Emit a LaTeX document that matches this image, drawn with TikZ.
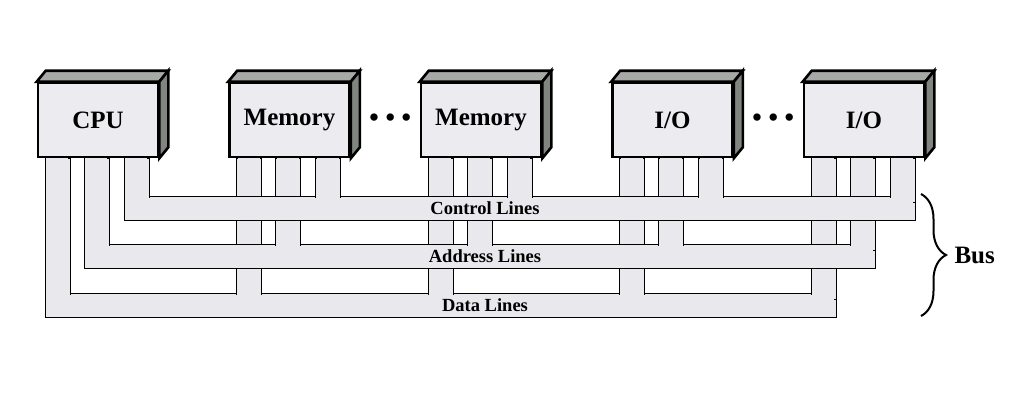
\documentclass[tikz,border=0pt]{standalone}
\usepackage{fontspec}
\setmainfont{Liberation Serif}
\usetikzlibrary{positioning, calc, backgrounds, decorations.pathreplacing}

\definecolor{facegray}{RGB}{236,236,240}
\definecolor{topgray}{RGB}{166,170,166}
\definecolor{sidegray}{RGB}{128,133,128}
\definecolor{linegray}{RGB}{233,233,237}

\begin{document}
\begin{tikzpicture}[x=1pt, y=-1pt, line width=2.6pt, node distance=191.5pt,
    every node/.style={font=\bfseries\fontsize{25}{28}\selectfont},
    module/.style={rectangle, draw, fill=facegray, minimum width=120pt, minimum height=74pt, inner sep=0pt},
    buslabel/.style={font=\bfseries\fontsize{18.5}{22}\selectfont}]
    \useasboundingbox (0,0) rectangle (1021,402);

    \node[module] (cpu) at (98,120) {CPU};
    \node[module, right of=cpu] (mem1) {Memory};
    \node[module, right of=mem1] (mem2) {Memory};
    \node[module, right of=mem2] (io1) {I/O};
    \node[module, right of=io1] (io2) {I/O};

    \node[font=\bfseries\fontsize{27}{30}\selectfont] (dots1) at ($(mem1.east)!0.5!(mem2.west)+(5,0)$) {• • •};
    \node[font=\bfseries\fontsize{27}{30}\selectfont] (dots2) at ($(io1.east)!0.5!(io2.west)+(5,0)$) {• • •};

    % top and side of each box
    \foreach \m in {cpu,mem1,mem2,io1,io2} {
      \draw[fill=topgray] (\m.north west) -- ++(9,-11) -- ($(\m.north east)+(9,-11)$) -- (\m.north east) -- cycle;
      \draw[fill=sidegray] (\m.north east) -- ++(9,-11) -- ($(\m.south east)+(9,-11)$) -- (\m.south east) -- cycle;
    }

    \begin{pgfonlayer}{background}
    % data, address and control lines, bottom one first
    \foreach \l/\r/\t/\b in {8/33/135/159, 47/72/86/110, 87/112/38/62} {
      \draw[fill=linegray] ($(cpu.south west)+(\l,\t)$) rectangle ($(io2.south west)+(\r,\b)$);
      \foreach \m in {cpu,mem1,mem2,io1,io2}
        \draw[fill=linegray] ($(\m.south west)+(\l,0)$) rectangle ($(\m.south west)+(\r,\t+6)$);
      \foreach \m in {cpu,mem1,mem2,io1,io2}
        \fill[linegray] ($(\m.south west)+(\l+1.3,0)$) rectangle ($(\m.south west)+(\r-1.3,\t+6)$);
      \fill[linegray] ($(cpu.south west)+(\l+1.3,\t+1.3)$) rectangle ($(io2.south west)+(\r-1.3,\b-1.3)$);
    }
    \end{pgfonlayer}

    \node[buslabel] (ctrl) at ($(mem2.south)+(4,50)$) {Control Lines};
    \node[buslabel] (addr) at ($(mem2.south)+(4,98)$) {Address Lines};
    \node[buslabel] (data) at ($(mem2.south)+(4,147)$) {Data Lines};

    \coordinate (bustop) at (921,194);
    \coordinate (busbot) at (921,316);
    \draw[line width=2pt, decorate, decoration={brace, amplitude=25pt}] (bustop) -- (busbot);
    \node[anchor=west] (bus) at ($(bustop)!0.5!(busbot)+(30,0)$) {Bus};
\end{tikzpicture}
\end{document}
